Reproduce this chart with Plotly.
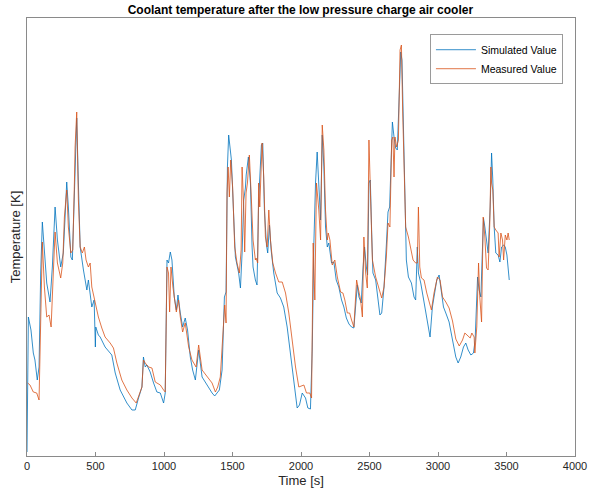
import plotly.graph_objects as go

# Simulated value (time in s, temperature in K)
sim_t = [0, 10, 29, 46, 58, 75, 88, 100, 112, 127, 144, 168, 185, 205, 222, 246, 265, 278, 290, 302,
         320, 331, 346, 358, 363, 375, 388, 412, 437, 448, 473, 490, 499, 502, 521, 534, 570, 619, 644, 680,
         729, 766, 790, 814, 839, 850, 863, 875, 899, 924, 948, 973, 997, 1009, 1022, 1033, 1046, 1058, 1075, 1090,
         1102, 1119, 1136, 1155, 1172, 1192, 1209, 1229, 1253, 1278, 1314, 1351, 1370, 1387, 1404, 1424, 1441, 1453, 1463, 1472,
         1484, 1492, 1509, 1521, 1545, 1558, 1570, 1582, 1594, 1600, 1616, 1631, 1643, 1650, 1667, 1679, 1691, 1711, 1721, 1733,
         1748, 1757, 1770, 1782, 1801, 1826, 1850, 1874, 1899, 1923, 1947, 1972, 1989, 2009, 2033, 2050, 2069, 2082, 2094, 2106,
         2118, 2130, 2143, 2155, 2167, 2179, 2192, 2203, 2223, 2240, 2257, 2276, 2296, 2313, 2331, 2350, 2369, 2386, 2399, 2411,
         2423, 2440, 2452, 2464, 2477, 2486, 2496, 2506, 2516, 2525, 2545, 2562, 2576, 2589, 2606, 2623, 2635, 2647, 2654, 2667,
         2679, 2691, 2703, 2715, 2728, 2737, 2747, 2757, 2769, 2784, 2806, 2825, 2837, 2849, 2857, 2874, 2898, 2923, 2942, 2959,
         2976, 2991, 3008, 3025, 3040, 3057, 3081, 3106, 3130, 3147, 3166, 3186, 3203, 3220, 3240, 3259, 3271, 3289, 3300, 3313,
         3325, 3332, 3342, 3354, 3366, 3381, 3391, 3400, 3410, 3422, 3439, 3452, 3464, 3479, 3491, 3503, 3520]
sim_T = [296.4, 309.9, 308.6, 306.3, 305.6, 303.6, 304.9, 314.3, 319.4, 316.6, 313.3, 311.4, 314.9, 320.9, 317.6, 314.9, 316.3, 319.9, 323.4, 320.9,
         315.9, 315.6, 321.6, 328.6, 329.8, 323.3, 316.9, 314.6, 312.6, 313.6, 310.9, 311.6, 306.9, 308.9, 308.1, 307.9, 306.9, 306.1, 304.3, 302.6,
         301.3, 300.6, 300.6, 301.8, 302.9, 305.9, 304.9, 305.1, 304.4, 303.3, 302.4, 302.3, 301.3, 302.3, 315.6, 315.3, 316.4, 315.6, 311.9, 310.6,
         312.1, 310.3, 308.9, 309.8, 308.6, 305.9, 304.6, 303.6, 306.6, 303.9, 303.1, 302.3, 302.0, 302.3, 302.6, 304.6, 311.9, 312.4, 324.9, 328.1,
         326.1, 325.6, 319.9, 315.9, 314.3, 312.8, 316.3, 321.6, 322.8, 324.1, 325.9, 323.3, 316.9, 314.9, 313.6, 313.1, 321.6, 327.1, 327.3, 320.6,
         317.1, 316.3, 319.1, 316.6, 314.3, 312.3, 311.8, 310.9, 308.9, 306.3, 303.3, 300.8, 301.1, 302.3, 301.8, 300.8, 300.7, 306.6, 317.3, 323.3,
         326.4, 323.3, 319.6, 328.1, 324.9, 318.9, 316.9, 317.3, 315.3, 315.4, 313.6, 312.9, 311.6, 310.9, 309.8, 309.2, 308.9, 308.8, 311.3, 313.1,
         311.9, 311.3, 314.6, 316.9, 314.9, 314.1, 323.3, 323.6, 318.3, 314.3, 313.6, 311.6, 310.1, 310.3, 312.9, 317.1, 320.4, 320.9, 324.9, 329.4,
         327.9, 326.8, 326.6, 330.9, 336.4, 335.6, 329.3, 320.9, 315.6, 313.9, 313.3, 311.9, 311.6, 316.9, 314.3, 313.3, 311.3, 309.3, 307.9, 310.9,
         312.6, 313.6, 314.1, 312.6, 310.9, 310.3, 309.4, 307.6, 305.9, 305.3, 305.9, 306.9, 307.3, 306.6, 306.1, 306.3, 307.6, 313.9, 312.6, 311.9,
         315.9, 319.8, 318.9, 317.6, 316.3, 320.9, 326.3, 323.6, 318.9, 316.3, 316.1, 315.4, 316.9, 317.1, 316.9, 316.1, 313.6]

# Measured value (time in s, temperature in K)
meas_t = [5, 22, 46, 71, 88, 100, 112, 127, 144, 161, 176, 192, 205, 222, 246, 261, 273, 290, 302, 320,
          334, 346, 351, 363, 375, 388, 404, 419, 431, 448, 461, 473, 497, 521, 546, 570, 607, 631, 656, 692,
          729, 766, 797, 826, 839, 850, 863, 887, 912, 936, 973, 997, 1009, 1022, 1033, 1041, 1051, 1065, 1090, 1106,
          1119, 1136, 1155, 1180, 1204, 1234, 1253, 1278, 1314, 1351, 1375, 1392, 1411, 1428, 1443, 1453, 1460, 1468, 1477, 1487,
          1501, 1516, 1533, 1550, 1563, 1570, 1582, 1589, 1599, 1609, 1623, 1638, 1650, 1667, 1672, 1684, 1691, 1699, 1716, 1728,
          1740, 1753, 1765, 1777, 1794, 1814, 1838, 1863, 1887, 1911, 1936, 1960, 1984, 2021, 2040, 2064, 2077, 2089, 2101, 2113,
          2130, 2143, 2155, 2167, 2179, 2192, 2199, 2211, 2228, 2247, 2265, 2289, 2306, 2320, 2338, 2355, 2369, 2386, 2406, 2423,
          2435, 2448, 2459, 2472, 2484, 2496, 2508, 2521, 2545, 2569, 2589, 2606, 2623, 2635, 2649, 2662, 2671, 2679, 2686, 2698,
          2711, 2723, 2733, 2742, 2752, 2764, 2784, 2801, 2818, 2837, 2849, 2857, 2867, 2879, 2898, 2918, 2935, 2952, 2971, 2996,
          3015, 3033, 3057, 3081, 3106, 3130, 3155, 3179, 3196, 3215, 3235, 3247, 3264, 3269, 3283, 3296, 3305, 3318, 3330, 3342,
          3354, 3366, 3378, 3386, 3391, 3400, 3410, 3422, 3439, 3446, 3459, 3471, 3479, 3491, 3503, 3512, 3520]
meas_T = [303.3, 303.1, 302.4, 302.3, 301.6, 311.6, 317.4, 312.9, 309.9, 310.1, 308.9, 314.3, 318.4, 315.3, 313.8, 315.3, 319.9, 322.6, 318.9, 316.3,
          316.6, 323.3, 326.9, 330.4, 321.6, 316.9, 316.3, 316.9, 315.6, 314.9, 315.3, 312.9, 311.3, 309.9, 308.8, 307.9, 307.3, 306.8, 305.3, 303.6,
          302.6, 301.8, 301.3, 302.3, 302.9, 305.6, 305.3, 304.9, 304.8, 303.4, 303.1, 302.6, 302.4, 314.9, 314.3, 310.4, 314.9, 312.9, 310.4, 311.6,
          309.9, 308.4, 309.3, 306.9, 305.6, 304.9, 307.1, 304.6, 303.9, 303.3, 302.4, 302.9, 303.9, 307.6, 311.1, 309.3, 322.3, 324.9, 321.9, 325.6,
          322.9, 316.9, 315.3, 314.3, 316.6, 324.9, 320.9, 316.4, 322.3, 323.3, 326.1, 321.6, 317.6, 315.6, 315.8, 315.3, 323.3, 320.9, 327.3, 323.9,
          317.9, 316.9, 320.6, 317.6, 315.3, 314.3, 313.4, 313.4, 312.3, 310.3, 307.6, 304.9, 302.9, 303.1, 302.3, 302.3, 301.8, 317.3, 311.6, 323.3,
          320.6, 317.6, 329.1, 326.6, 320.6, 317.6, 318.3, 317.6, 315.1, 315.6, 313.9, 312.4, 312.3, 311.6, 310.3, 310.3, 309.6, 308.9, 313.6, 312.3,
          311.6, 309.9, 317.9, 314.3, 312.8, 327.6, 320.6, 315.6, 313.9, 312.6, 311.8, 312.9, 315.9, 319.3, 318.9, 327.6, 327.9, 323.9, 327.9, 326.9,
          327.6, 336.6, 337.1, 330.6, 325.9, 318.9, 317.9, 316.6, 315.6, 315.3, 315.3, 320.9, 314.9, 313.8, 313.6, 312.3, 311.3, 310.6, 312.3, 313.9,
          313.6, 311.9, 311.4, 310.8, 309.5, 307.7, 307.0, 307.6, 308.3, 308.1, 307.8, 308.3, 307.9, 306.3, 308.9, 315.3, 311.9, 309.4, 319.9, 317.9,
          314.8, 314.6, 319.3, 324.9, 323.3, 322.6, 318.9, 318.6, 318.3, 315.9, 318.3, 317.6, 315.6, 318.1, 317.6, 318.3, 317.6]

x_ticks = [0, 500, 1000, 1500, 2000, 2500, 3000, 3500, 4000]

FONT = "Liberation Sans, Arial, Helvetica, sans-serif"
AX = "#262626"

fig = go.Figure()
fig.add_trace(go.Scatter(x=sim_t, y=sim_T, mode="lines", name="Simulated Value",
                         line=dict(color="#0072BD", width=0.8)))
fig.add_trace(go.Scatter(x=meas_t, y=meas_T, mode="lines", name="Measured Value",
                         line=dict(color="#D95319", width=0.8)))

fig.update_layout(
    width=589, height=496,
    margin=dict(l=27, r=14, t=18, b=40),
    paper_bgcolor="white", plot_bgcolor="white",
    font=dict(family=FONT, color=AX, size=11),
    title=dict(text="<b>Coolant temperature after the low pressure charge air cooler</b>",
               x=0.51, xanchor="center", y=0.981, yanchor="middle",
               font=dict(size=12, color="black")),
    showlegend=True,
    legend=dict(x=0.978, y=0.963, xanchor="right", yanchor="top",
                bgcolor="white", bordercolor="#9a9a9a", borderwidth=1,
                font=dict(size=10.5, color="black"), tracegroupgap=0,
                itemwidth=40),
)
fig.update_xaxes(range=[0, 4000], tickvals=x_ticks, ticktext=[str(v) for v in x_ticks],
                 ticks="inside", ticklen=4, tickcolor="#8a8a8a",
                 showline=True, linecolor="#8a8a8a", linewidth=1, mirror=True,
                 showgrid=False, zeroline=False, automargin=False,
                 title=dict(text="Time [s]", font=dict(size=13, color=AX), standoff=4),
                 tickfont=dict(size=11, color=AX))
fig.update_yaxes(range=[296, 339.8], showticklabels=False, ticks="",
                 showline=True, linecolor="#8a8a8a", linewidth=1, mirror=True,
                 showgrid=False, zeroline=False, automargin=False,
                 title=dict(text="Temperature [K]", font=dict(size=13, color=AX), standoff=2))

fig.write_html("out.html")
